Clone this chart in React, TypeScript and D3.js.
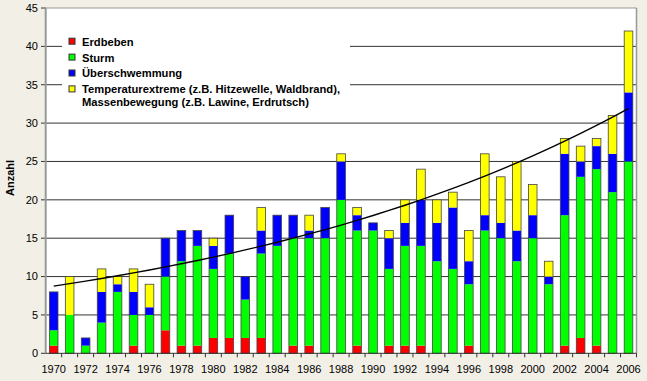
import React from "react";
import * as d3 from "d3";

const years = d3.range(1970, 2007).map(String);
const erdbeben = [1,0,0,0,0,1,0,3,1,1,2,2,2,2,0,1,1,0,0,1,0,1,1,1,0,0,1,0,0,0,0,0,1,2,1,0,0];
const sturm =    [2,5,1,4,8,4,5,7,11,13,9,11,5,11,14,14,14,15,20,15,16,10,13,13,12,11,8,16,15,12,15,9,17,21,23,21,25];
const ueberschw = [5,0,1,4,1,3,1,5,4,2,3,5,3,3,4,3,1,4,5,2,1,4,3,6,5,8,3,2,2,4,3,1,8,2,3,5,9];
const temperatur = [0,5,0,3,1,3,3,0,0,0,1,0,0,3,0,0,2,0,1,1,0,1,3,4,3,2,4,8,6,9,4,2,2,2,1,5,8];
const yTicks = [0,5,10,15,20,25,30,35,40,45];

const seriesNames = [
  "Erdbeben",
  "Sturm",
  "Überschwemmung",
  "Temperaturextreme (z.B. Hitzewelle, Waldbrand),",
];
const legendExtra = "Massenbewegung (z.B. Lawine, Erdrutsch)";
const colors = ["#FF0000", "#00FF00", "#0000FF", "#FFFF00"];

const W = 647, H = 381;
const left = 45.7, right = 636.5, top = 8, bottom = 353.3;

export default function App() {
  const x = d3.scaleBand<string>().domain(years).range([left, right]).paddingInner(0.46).paddingOuter(0.23);
  const y = d3.scaleLinear().domain([0, 45]).range([bottom, top]);
  const rows = years.map((yr, i) => ({ yr, v: [erdbeben[i], sturm[i], ueberschw[i], temperatur[i]] }));
  const totals = rows.map(r => d3.sum(r.v));
  // exponential trend (least squares on ln(total))
  const xs = years.map((_, i) => i);
  const ls = totals.map(t => Math.log(t));
  const mx = d3.mean(xs)!, ml = d3.mean(ls)!;
  const slope = d3.sum(xs, (xi, i) => (xi - mx) * (ls[i] - ml)) / d3.sum(xs, xi => (xi - mx) ** 2);
  const icpt = ml - slope * mx;
  const trend = xs.map(i => ({ yr: years[i], v: Math.exp(icpt + slope * i) }));
  const line = d3.line<{ yr: string; v: number }>()
    .x(d => x(d.yr)! + x.bandwidth() / 2)
    .y(d => y(d.v))
    .curve(d3.curveMonotoneX);
  const step = x.step();
  const font = "'Liberation Sans', Arial, sans-serif";

  return (
    <svg width={W} height={H} style={{ position: "fixed", left: 0, top: 0, background: "#F1EFE6" }} fontFamily={font}>
      <rect x={0} y={0} width={W} height={H} fill="#F1EFE6" />
      <rect x={left} y={top} width={right - left} height={bottom - top} fill="#FFFFFF" />
      {yTicks.map(t => (
        <g key={t}>
          {t > 0 && <line x1={left} x2={right} y1={y(t)} y2={y(t)} stroke={t === 45 ? "#999" : "#333"} strokeWidth={1} />}
          <line x1={41} x2={left} y1={y(t)} y2={y(t)} stroke="#333" />
          <text x={38} y={y(t)} dy="0.35em" textAnchor="end" fontSize={11} fill="#000">{t}</text>
        </g>
      ))}
      <line x1={right} x2={right} y1={top} y2={bottom} stroke="#999" strokeWidth={1.5} />
      {/* legend box */}
      <rect x={62} y={30} width={288} height={82} fill="#FFFFFF" />
      {rows.map(r => {
        let acc = 0;
        const x0 = x(r.yr)!;
        const tot = d3.sum(r.v);
        return (
          <g key={r.yr}>
            {r.v.map((v, k) => {
              const y0 = acc; acc += v;
              if (v === 0) return null;
              return <rect key={k} x={x0} width={x.bandwidth()} y={y(acc)} height={y(y0) - y(acc)} fill={colors[k]} />;
            })}
            <rect x={x0} width={x.bandwidth()} y={y(tot)} height={y(0) - y(tot)} fill="none" stroke="#444" strokeWidth={0.8} />
          </g>
        );
      })}
      <path d={line(trend)!} fill="none" stroke="#000" strokeWidth={1.4} />
      {/* axes */}
      <line x1={left} x2={left} y1={top} y2={bottom} stroke="#999" strokeWidth={2} />
      <line x1={left} x2={right} y1={bottom} y2={bottom} stroke="#333" strokeWidth={1} />
      {years.map((yr) => (
        <line key={yr} x1={x(yr)! - (step - x.bandwidth()) / 2 + step} x2={x(yr)! - (step - x.bandwidth()) / 2 + step} y1={bottom} y2={bottom + 4} stroke="#333" />
      ))}
      {years.filter((_, i) => i % 2 === 0).map(yr => (
        <text key={yr} x={x(yr)! + x.bandwidth() / 2} y={373} textAnchor="middle" fontSize={11} fill="#000">{yr}</text>
      ))}
      <text transform={`translate(14,178) rotate(-90)`} textAnchor="middle" fontSize={11} fontWeight="bold" fill="#000">Anzahl</text>
      {seriesNames.map((n, k) => (
        <g key={n} transform={`translate(0,${41.7 + k * 15.9})`}>
          <rect x={69} y={-3.5} width={6} height={6} fill={colors[k]} stroke="#333" strokeWidth={1} />
          <text x={82} y={0} dy="0.35em" fontSize={11.2} fontWeight="bold" fill="#000">{n}</text>
        </g>
      ))}
      <text x={82} y={101.7} dy="0.35em" fontSize={11.2} fontWeight="bold" fill="#000">{legendExtra}</text>
    </svg>
  );
}
